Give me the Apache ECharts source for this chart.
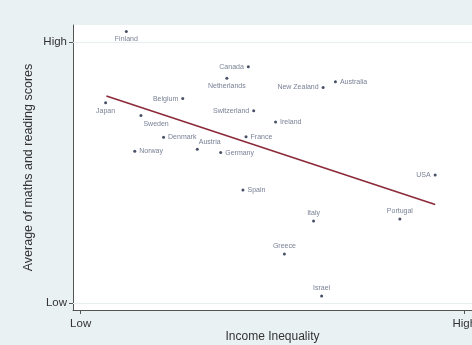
<!DOCTYPE html>
<html>
<head>
<meta charset="utf-8">
<script src="https://cdn.jsdelivr.net/npm/echarts@6/dist/echarts.min.js"></script>
<style>
  html, body { margin: 0; padding: 0; background: #eaf1f3; }
  #chart { width: 472px; height: 345px; }
</style>
</head>
<body>
<div id="chart"></div>
<script>
// income inequality (0 = low, 10 = high) vs average score (0 = low, 10 = high)
const countries = ['Finland', 'Canada', 'Netherlands', 'Belgium', 'Japan', 'Sweden', 'Switzerland',
  'Denmark', 'Norway', 'Austria', 'Germany', 'France', 'Ireland', 'New Zealand', 'Australia',
  'USA', 'Spain', 'Italy', 'Portugal', 'Greece', 'Israel'];
const inequality = [1.19, 4.37, 3.81, 2.66, 0.65, 1.57, 4.51,
  2.16, 1.41, 3.04, 3.65, 4.31, 5.08, 6.32, 6.64,
  9.24, 4.23, 6.07, 8.32, 5.31, 6.28];
const scores = [10.4, 9.05, 8.61, 7.83, 7.67, 7.18, 7.36,
  6.35, 5.81, 5.89, 5.76, 6.37, 6.93, 8.26, 8.48,
  4.90, 4.33, 3.14, 3.22, 1.88, 0.27];
const fitX = [0.67, 9.24];
const fitY = [7.93, 3.77];
const tickValues = [0, 10];
const tickLabels = ['Low', 'High'];

// where each country's name sits around its dot
const labelSide = {
  Finland: 'bottom', Canada: 'left', Netherlands: 'bottom', Belgium: 'left', Japan: 'bottom',
  Sweden: [4, 6], Switzerland: 'left', Denmark: 'right', Norway: 'right', Austria: [3, -9],
  Germany: 'right', France: 'right', Ireland: 'right', 'New Zealand': 'left', Australia: 'right',
  USA: 'left', Spain: 'right', Italy: 'top', Portugal: 'top', Greece: 'top', Israel: 'top'
};

const chart = echarts.init(document.getElementById('chart'));
const font = '"Liberation Sans", Arial, sans-serif';
const tickFmt = v => tickLabels[tickValues.indexOf(v)];

chart.setOption({
  backgroundColor: '#eaf1f3',
  animation: false,
  textStyle: { fontFamily: font },
  grid: {
    left: 73, right: 0, top: 25, bottom: 35, outerBoundsMode: 'none',
    show: true, backgroundColor: '#ffffff', borderWidth: 0
  },
  xAxis: {
    type: 'value', min: -0.2, max: 10.2,
    name: 'Income Inequality', nameLocation: 'middle', nameGap: 21, nameMoveOverlap: false,
    nameTextStyle: { fontSize: 12, color: '#333' },
    axisLine: { show: true, onZero: false, lineStyle: { color: '#555', width: 1 } },
    axisTick: { show: true, length: 4, customValues: tickValues, lineStyle: { color: '#555' } },
    axisLabel: { customValues: tickValues, formatter: tickFmt, fontSize: 11.5, color: '#333', margin: 8 },
    splitLine: { show: false }
  },
  yAxis: {
    type: 'value', min: -0.27, max: 10.65,
    name: 'Average of maths and reading scores', nameLocation: 'middle', nameGap: 38, nameMoveOverlap: false,
    nameTextStyle: { fontSize: 12.5, color: '#333' },
    axisLine: { show: true, onZero: false, lineStyle: { color: '#555', width: 1 } },
    axisTick: { show: true, length: 4, customValues: tickValues, lineStyle: { color: '#555' } },
    axisLabel: { customValues: tickValues, formatter: tickFmt, fontSize: 11.5, color: '#333', margin: 6 },
    splitLine: { show: false }
  },
  series: [
    {
      type: 'scatter',
      symbolSize: 3,
      itemStyle: { color: '#1a2440' },
      data: countries.map((name, i) => ({
        name,
        value: [inequality[i], scores[i]],
        label: { position: labelSide[name] }
      })),
      label: {
        show: true,
        formatter: p => p.name,
        fontSize: 7,
        color: '#56607a',
        distance: 3
      },
      markLine: {
        silent: true,
        symbol: 'none',
        label: { show: false },
        lineStyle: { color: '#e6eef0', type: 'solid', width: 1 },
        data: [{ yAxis: 10 }, { yAxis: 0 }]
      }
    },
    {
      type: 'line',
      symbol: 'none',
      lineStyle: { color: '#8c2a3a', width: 1.7 },
      data: fitX.map((x, i) => [x, fitY[i]])
    }
  ]
});
</script>
</body>
</html>
